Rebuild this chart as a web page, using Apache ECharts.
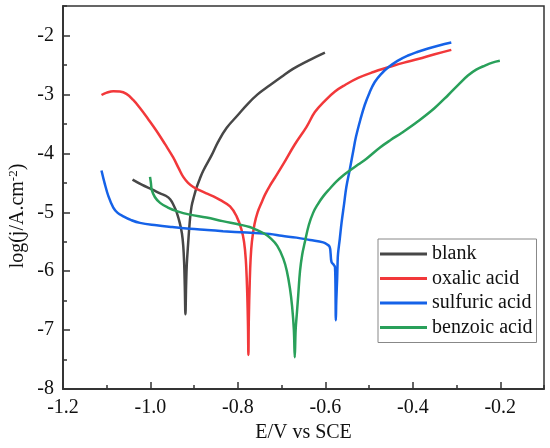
<!DOCTYPE html>
<html>
<head>
<meta charset="utf-8">
<script src="https://cdn.jsdelivr.net/npm/echarts@6/dist/echarts.min.js"></script>
<style>
  html, body { margin: 0; padding: 0; background: #fff; }
  #chart { width: 550px; height: 448px; }
</style>
</head>
<body>
<div id="chart"></div>
<script>
// polarisation curves, E (V vs SCE) against log current density
var seriesNames = ['blank', 'oxalic acid', 'sulfuric acid', 'benzoic acid'];
var seriesColors = ['#474747', '#f2383a', '#1562e8', '#29a05a'];

var blankE = [-1.041, -1.02, -0.994, -0.978, -0.965, -0.955, -0.947, -0.940, -0.933, -0.928, -0.925, -0.923,
    -0.9215, -0.920, -0.9185, -0.917, -0.914, -0.910, -0.906, -0.900, -0.894, -0.887, -0.879, -0.860,
    -0.845, -0.826, -0.80, -0.78, -0.755, -0.727, -0.70, -0.674, -0.64, -0.601];
var blankLogJ = [-4.445, -4.53, -4.62, -4.68, -4.72, -4.78, -4.88, -5.0, -5.18, -5.36, -5.57, -5.85,
    -6.25, -6.73, -6.25, -5.9, -5.55, -5.15, -4.90, -4.72, -4.57, -4.43, -4.29, -4.03,
    -3.8, -3.57, -3.35, -3.18, -3.0, -2.845, -2.70, -2.567, -2.43, -2.29];

var oxalicE = [-1.112, -1.10, -1.085, -1.07, -1.055, -1.04, -1.024, -1.005, -0.986, -0.967, -0.948, -0.935,
    -0.925, -0.914, -0.902, -0.887, -0.872, -0.856, -0.841, -0.818, -0.803, -0.792, -0.786, -0.782,
    -0.779, -0.777, -0.776, -0.775, -0.773, -0.771, -0.768, -0.762, -0.755, -0.745, -0.738, -0.727,
    -0.715, -0.696, -0.670, -0.643, -0.624, -0.600, -0.578, -0.555, -0.525, -0.49, -0.456, -0.42,
    -0.388, -0.35, -0.312];
var oxalicLogJ = [-3.01, -2.97, -2.945, -2.95, -2.99, -3.09, -3.23, -3.42, -3.62, -3.84, -4.07, -4.26,
    -4.40, -4.50, -4.57, -4.63, -4.68, -4.73, -4.79, -4.90, -5.07, -5.29, -5.50, -5.80,
    -6.3, -6.9, -7.42, -6.8, -6.2, -5.8, -5.5, -5.2, -5.0, -4.82, -4.70, -4.55,
    -4.41, -4.18, -3.85, -3.55, -3.30, -3.10, -2.95, -2.84, -2.72, -2.62, -2.54, -2.46,
    -2.40, -2.32, -2.245];

var sulfuricE = [-1.112, -1.105, -1.096, -1.085, -1.075, -1.062, -1.045, -1.024, -0.986, -0.95, -0.910, -0.87,
    -0.834, -0.78, -0.727, -0.70, -0.666, -0.635, -0.605, -0.595, -0.590, -0.588, -0.586, -0.580,
    -0.578, -0.577, -0.576, -0.575, -0.573, -0.572, -0.571, -0.567, -0.563, -0.557, -0.552, -0.544,
    -0.536, -0.53, -0.52, -0.51, -0.499, -0.487, -0.472, -0.456, -0.435, -0.411, -0.39, -0.365,
    -0.34, -0.312];
var sulfuricLogJ = [-4.29, -4.50, -4.73, -4.92, -5.01, -5.07, -5.13, -5.18, -5.22, -5.25, -5.28, -5.30,
    -5.32, -5.345, -5.37, -5.40, -5.43, -5.47, -5.51, -5.55, -5.59, -5.70, -5.84, -5.90,
    -5.93, -6.2, -6.83, -6.5, -6.12, -5.85, -5.70, -5.45, -5.18, -4.85, -4.57, -4.27,
    -3.95, -3.72, -3.43, -3.18, -2.97, -2.79, -2.65, -2.54, -2.43, -2.34, -2.28, -2.22,
    -2.17, -2.12];

var benzoicE = [-1.001, -0.999, -0.997, -0.99, -0.978, -0.96, -0.94, -0.91, -0.872, -0.835, -0.795, -0.773,
    -0.757, -0.74, -0.727, -0.71, -0.696, -0.688, -0.681, -0.676, -0.672, -0.670, -0.668, -0.665,
    -0.662, -0.658, -0.653, -0.647, -0.638, -0.628, -0.617, -0.605, -0.59, -0.575, -0.56, -0.544,
    -0.525, -0.506, -0.475, -0.45, -0.425, -0.388, -0.35, -0.319, -0.295, -0.274, -0.255, -0.235,
    -0.218, -0.201];
var benzoicLogJ = [-4.40, -4.50, -4.62, -4.74, -4.84, -4.92, -4.98, -5.04, -5.09, -5.15, -5.21, -5.25,
    -5.30, -5.36, -5.43, -5.57, -5.79, -6.0, -6.29, -6.6, -7.0, -7.46, -7.0, -6.7,
    -6.4, -6.0, -5.72, -5.51, -5.22, -5.01, -4.86, -4.73, -4.60, -4.48, -4.38, -4.29,
    -4.19, -4.09, -3.90, -3.77, -3.65, -3.455, -3.23, -3.01, -2.83, -2.68, -2.58, -2.51,
    -2.46, -2.43];

var allE = [blankE, oxalicE, sulfuricE, benzoicE];
var allLogJ = [blankLogJ, oxalicLogJ, sulfuricLogJ, benzoicLogJ];

var font = 'Liberation Serif';
var axisColor = '#333';

function pairs(xs, ys) {
    var out = [];
    for (var i = 0; i < xs.length; i++) {
        out.push([xs[i], ys[i]]);
    }
    return out;
}

var chart = echarts.init(document.getElementById('chart'));

var series = [];
for (var i = 0; i < seriesNames.length; i++) {
    series.push({
        name: seriesNames[i],
        type: 'line',
        xAxisIndex: 0,
        yAxisIndex: 0,
        data: pairs(allE[i], allLogJ[i]),
        symbol: 'none',
        smooth: 0.4,
        lineStyle: { color: seriesColors[i], width: 2.5 },
        itemStyle: { color: seriesColors[i] },
        animation: false
    });
}

var option = {
    animation: false,
    grid: {
        left: 63, right: 6, top: 6, bottom: 53,
        show: true, borderColor: axisColor, borderWidth: 1.5
    },
    legend: {
        orient: 'vertical',
        left: 378, top: 239,
        icon: 'rect',
        itemWidth: 47, itemHeight: 3, itemGap: 4.5,
        padding: [5, 4, 5, 2],
        borderColor: '#888', borderWidth: 1,
        textStyle: { fontFamily: font, fontSize: 20, color: '#111' },
        data: seriesNames
    },
    xAxis: [{
        // minor ticks every 0.1
        type: 'value', min: -1.2, max: -0.1, interval: 0.1, position: 'bottom',
        axisLine: { show: true, onZero: false, lineStyle: { color: axisColor, width: 1.5 } },
        axisTick: { inside: true, length: 4, lineStyle: { color: axisColor, width: 1.5 } },
        axisLabel: { show: false },
        splitLine: { show: false }
    }, {
        type: 'value', min: -1.2, max: -0.1, interval: 0.2, position: 'bottom',
        axisLine: { show: true, onZero: false, lineStyle: { color: axisColor, width: 1.5 } },
        axisTick: { inside: true, length: 7, lineStyle: { color: axisColor, width: 1.5 } },
        axisLabel: {
            margin: 9, fontFamily: font, fontSize: 20, color: '#111', showMaxLabel: false,
            formatter: function (v) { return v.toFixed(1); }
        },
        splitLine: { show: false },
        name: 'E/V vs SCE', nameLocation: 'middle', nameGap: 32,
        nameTextStyle: { fontFamily: font, fontSize: 20, color: '#111' }
    }],
    yAxis: [{
        type: 'value', min: -8, max: -1.5, interval: 0.5,
        axisLine: { show: true, onZero: false, lineStyle: { color: axisColor, width: 1.5 } },
        axisTick: { inside: true, length: 4, lineStyle: { color: axisColor, width: 1.5 } },
        axisLabel: { show: false },
        splitLine: { show: false }
    }, {
        type: 'value', min: -8, max: -1.5, interval: 1, position: 'left',
        axisLine: { show: true, onZero: false, lineStyle: { color: axisColor, width: 1.5 } },
        axisTick: { inside: true, length: 7, lineStyle: { color: axisColor, width: 1.5 } },
        axisLabel: {
            margin: 9, fontFamily: font, fontSize: 20, color: '#111', showMaxLabel: false
        },
        splitLine: { show: false }
    }],
    graphic: [{
        type: 'text',
        x: 18, y: 216,
        rotation: Math.PI / 2,
        style: {
            text: '{a|log(j/A.cm}{s|-2}{a|)}',
            align: 'center',
            verticalAlign: 'middle',
            rich: {
                a: { fontFamily: font, fontSize: 20, fill: '#111', lineHeight: 22 },
                s: { fontFamily: font, fontSize: 13, fill: '#111', verticalAlign: 'top', lineHeight: 22 }
            }
        }
    }],
    series: series
};

chart.setOption(option);
</script>
</body>
</html>
